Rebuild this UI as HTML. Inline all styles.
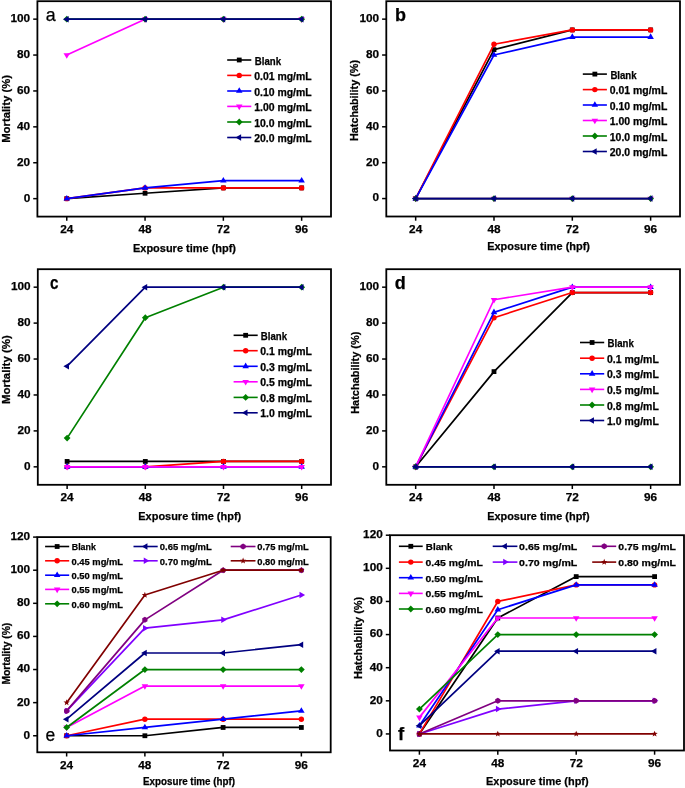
<!DOCTYPE html>
<html><head><meta charset="utf-8"><style>
html,body{margin:0;padding:0;background:#fff;}
svg{display:block;}
text{font-family:"Liberation Sans", sans-serif;fill:#000;stroke:#000;stroke-width:0.25px;}
</style></head><body>
<svg width="685" height="788" viewBox="0 0 685 788">
<rect width="685" height="788" fill="#fff"/>
<polyline points="66.76,198.65 145.05,193.26 223.35,187.88 301.64,187.88" fill="none" stroke="#000000" stroke-width="1.7" stroke-linejoin="round"/>
<rect x="64.36" y="196.25" width="4.80" height="4.80" fill="#000000"/>
<rect x="142.65" y="190.86" width="4.80" height="4.80" fill="#000000"/>
<rect x="220.95" y="185.48" width="4.80" height="4.80" fill="#000000"/>
<rect x="299.24" y="185.48" width="4.80" height="4.80" fill="#000000"/>
<polyline points="66.76,198.65 145.05,187.88 223.35,187.88 301.64,187.88" fill="none" stroke="#FF0000" stroke-width="1.7" stroke-linejoin="round"/>
<circle cx="66.76" cy="198.65" r="2.70" fill="#FF0000"/>
<circle cx="145.05" cy="187.88" r="2.70" fill="#FF0000"/>
<circle cx="223.35" cy="187.88" r="2.70" fill="#FF0000"/>
<circle cx="301.64" cy="187.88" r="2.70" fill="#FF0000"/>
<polyline points="66.76,198.65 145.05,187.88 223.35,180.70 301.64,180.70" fill="none" stroke="#0000FF" stroke-width="1.7" stroke-linejoin="round"/>
<polygon points="66.76,194.90 70.01,200.50 63.51,200.50" fill="#0000FF"/>
<polygon points="145.05,184.13 148.30,189.73 141.80,189.73" fill="#0000FF"/>
<polygon points="223.35,176.95 226.60,182.55 220.10,182.55" fill="#0000FF"/>
<polygon points="301.64,176.95 304.89,182.55 298.39,182.55" fill="#0000FF"/>
<polyline points="66.76,55.05 145.05,19.15 223.35,19.15 301.64,19.15" fill="none" stroke="#FF00FF" stroke-width="1.7" stroke-linejoin="round"/>
<polygon points="66.76,58.80 70.01,53.20 63.51,53.20" fill="#FF00FF"/>
<polygon points="145.05,22.90 148.30,17.30 141.80,17.30" fill="#FF00FF"/>
<polygon points="223.35,22.90 226.60,17.30 220.10,17.30" fill="#FF00FF"/>
<polygon points="301.64,22.90 304.89,17.30 298.39,17.30" fill="#FF00FF"/>
<polyline points="66.76,19.15 145.05,19.15 223.35,19.15 301.64,19.15" fill="none" stroke="#008000" stroke-width="1.7" stroke-linejoin="round"/>
<polygon points="66.76,15.75 70.16,19.15 66.76,22.55 63.36,19.15" fill="#008000"/>
<polygon points="145.05,15.75 148.45,19.15 145.05,22.55 141.65,19.15" fill="#008000"/>
<polygon points="223.35,15.75 226.75,19.15 223.35,22.55 219.95,19.15" fill="#008000"/>
<polygon points="301.64,15.75 305.04,19.15 301.64,22.55 298.24,19.15" fill="#008000"/>
<polyline points="66.76,19.15 145.05,19.15 223.35,19.15 301.64,19.15" fill="none" stroke="#000080" stroke-width="1.7" stroke-linejoin="round"/>
<polygon points="63.01,19.15 68.61,15.90 68.61,22.40" fill="#000080"/>
<polygon points="141.30,19.15 146.90,15.90 146.90,22.40" fill="#000080"/>
<polygon points="219.60,19.15 225.20,15.90 225.20,22.40" fill="#000080"/>
<polygon points="297.89,19.15 303.49,15.90 303.49,22.40" fill="#000080"/>
<rect x="37.40" y="1.20" width="293.60" height="215.40" fill="none" stroke="#000" stroke-width="1.8"/>
<line x1="66.76" y1="216.60" x2="66.76" y2="220.80" stroke="#000" stroke-width="1.5"/>

<line x1="145.05" y1="216.60" x2="145.05" y2="220.80" stroke="#000" stroke-width="1.5"/>

<line x1="223.35" y1="216.60" x2="223.35" y2="220.80" stroke="#000" stroke-width="1.5"/>

<line x1="301.64" y1="216.60" x2="301.64" y2="220.80" stroke="#000" stroke-width="1.5"/>

<line x1="33.20" y1="198.65" x2="37.40" y2="198.65" stroke="#000" stroke-width="1.5"/>

<line x1="33.20" y1="162.75" x2="37.40" y2="162.75" stroke="#000" stroke-width="1.5"/>

<line x1="33.20" y1="126.85" x2="37.40" y2="126.85" stroke="#000" stroke-width="1.5"/>

<line x1="33.20" y1="90.95" x2="37.40" y2="90.95" stroke="#000" stroke-width="1.5"/>

<line x1="33.20" y1="55.05" x2="37.40" y2="55.05" stroke="#000" stroke-width="1.5"/>

<line x1="33.20" y1="19.15" x2="37.40" y2="19.15" stroke="#000" stroke-width="1.5"/>


<line x1="227.20" y1="60.00" x2="251.30" y2="60.00" stroke="#000000" stroke-width="1.6"/>
<rect x="236.85" y="57.60" width="4.80" height="4.80" fill="#000000"/>

<line x1="227.20" y1="75.40" x2="251.30" y2="75.40" stroke="#FF0000" stroke-width="1.6"/>
<circle cx="239.25" cy="75.40" r="2.70" fill="#FF0000"/>

<line x1="227.20" y1="91.00" x2="251.30" y2="91.00" stroke="#0000FF" stroke-width="1.6"/>
<polygon points="239.25,87.25 242.50,92.85 236.00,92.85" fill="#0000FF"/>

<line x1="227.20" y1="106.40" x2="251.30" y2="106.40" stroke="#FF00FF" stroke-width="1.6"/>
<polygon points="239.25,110.15 242.50,104.55 236.00,104.55" fill="#FF00FF"/>

<line x1="227.20" y1="122.00" x2="251.30" y2="122.00" stroke="#008000" stroke-width="1.6"/>
<polygon points="239.25,118.60 242.65,122.00 239.25,125.40 235.85,122.00" fill="#008000"/>

<line x1="227.20" y1="137.50" x2="251.30" y2="137.50" stroke="#000080" stroke-width="1.6"/>
<polygon points="235.50,137.50 241.10,134.25 241.10,140.75" fill="#000080"/>


<polyline points="415.67,198.56 493.99,49.64 572.31,29.91 650.63,29.91" fill="none" stroke="#000000" stroke-width="1.7" stroke-linejoin="round"/>
<rect x="413.27" y="196.16" width="4.80" height="4.80" fill="#000000"/>
<rect x="491.59" y="47.24" width="4.80" height="4.80" fill="#000000"/>
<rect x="569.91" y="27.51" width="4.80" height="4.80" fill="#000000"/>
<rect x="648.23" y="27.51" width="4.80" height="4.80" fill="#000000"/>
<polyline points="415.67,198.56 493.99,44.26 572.31,29.91 650.63,29.91" fill="none" stroke="#FF0000" stroke-width="1.7" stroke-linejoin="round"/>
<circle cx="415.67" cy="198.56" r="2.70" fill="#FF0000"/>
<circle cx="493.99" cy="44.26" r="2.70" fill="#FF0000"/>
<circle cx="572.31" cy="29.91" r="2.70" fill="#FF0000"/>
<circle cx="650.63" cy="29.91" r="2.70" fill="#FF0000"/>
<polyline points="415.67,198.56 493.99,55.02 572.31,37.08 650.63,37.08" fill="none" stroke="#0000FF" stroke-width="1.7" stroke-linejoin="round"/>
<polygon points="415.67,194.81 418.92,200.41 412.42,200.41" fill="#0000FF"/>
<polygon points="493.99,51.27 497.24,56.87 490.74,56.87" fill="#0000FF"/>
<polygon points="572.31,33.33 575.56,38.93 569.06,38.93" fill="#0000FF"/>
<polygon points="650.63,33.33 653.88,38.93 647.38,38.93" fill="#0000FF"/>
<polyline points="415.67,198.56 493.99,198.56 572.31,198.56 650.63,198.56" fill="none" stroke="#FF00FF" stroke-width="1.7" stroke-linejoin="round"/>
<polygon points="415.67,202.31 418.92,196.71 412.42,196.71" fill="#FF00FF"/>
<polygon points="493.99,202.31 497.24,196.71 490.74,196.71" fill="#FF00FF"/>
<polygon points="572.31,202.31 575.56,196.71 569.06,196.71" fill="#FF00FF"/>
<polygon points="650.63,202.31 653.88,196.71 647.38,196.71" fill="#FF00FF"/>
<polyline points="415.67,198.56 493.99,198.56 572.31,198.56 650.63,198.56" fill="none" stroke="#008000" stroke-width="1.7" stroke-linejoin="round"/>
<polygon points="415.67,195.16 419.07,198.56 415.67,201.96 412.27,198.56" fill="#008000"/>
<polygon points="493.99,195.16 497.39,198.56 493.99,201.96 490.59,198.56" fill="#008000"/>
<polygon points="572.31,195.16 575.71,198.56 572.31,201.96 568.91,198.56" fill="#008000"/>
<polygon points="650.63,195.16 654.03,198.56 650.63,201.96 647.23,198.56" fill="#008000"/>
<polyline points="415.67,198.56 493.99,198.56 572.31,198.56 650.63,198.56" fill="none" stroke="#000080" stroke-width="1.7" stroke-linejoin="round"/>
<polygon points="411.92,198.56 417.52,195.31 417.52,201.81" fill="#000080"/>
<polygon points="490.24,198.56 495.84,195.31 495.84,201.81" fill="#000080"/>
<polygon points="568.56,198.56 574.16,195.31 574.16,201.81" fill="#000080"/>
<polygon points="646.88,198.56 652.48,195.31 652.48,201.81" fill="#000080"/>
<rect x="386.30" y="1.20" width="293.70" height="215.30" fill="none" stroke="#000" stroke-width="1.8"/>
<line x1="415.67" y1="216.50" x2="415.67" y2="220.70" stroke="#000" stroke-width="1.5"/>

<line x1="493.99" y1="216.50" x2="493.99" y2="220.70" stroke="#000" stroke-width="1.5"/>

<line x1="572.31" y1="216.50" x2="572.31" y2="220.70" stroke="#000" stroke-width="1.5"/>

<line x1="650.63" y1="216.50" x2="650.63" y2="220.70" stroke="#000" stroke-width="1.5"/>

<line x1="382.10" y1="198.56" x2="386.30" y2="198.56" stroke="#000" stroke-width="1.5"/>

<line x1="382.10" y1="162.68" x2="386.30" y2="162.68" stroke="#000" stroke-width="1.5"/>

<line x1="382.10" y1="126.79" x2="386.30" y2="126.79" stroke="#000" stroke-width="1.5"/>

<line x1="382.10" y1="90.91" x2="386.30" y2="90.91" stroke="#000" stroke-width="1.5"/>

<line x1="382.10" y1="55.02" x2="386.30" y2="55.02" stroke="#000" stroke-width="1.5"/>

<line x1="382.10" y1="19.14" x2="386.30" y2="19.14" stroke="#000" stroke-width="1.5"/>


<line x1="582.80" y1="74.10" x2="606.90" y2="74.10" stroke="#000000" stroke-width="1.6"/>
<rect x="592.45" y="71.70" width="4.80" height="4.80" fill="#000000"/>

<line x1="582.80" y1="89.60" x2="606.90" y2="89.60" stroke="#FF0000" stroke-width="1.6"/>
<circle cx="594.85" cy="89.60" r="2.70" fill="#FF0000"/>

<line x1="582.80" y1="105.00" x2="606.90" y2="105.00" stroke="#0000FF" stroke-width="1.6"/>
<polygon points="594.85,101.25 598.10,106.85 591.60,106.85" fill="#0000FF"/>

<line x1="582.80" y1="120.50" x2="606.90" y2="120.50" stroke="#FF00FF" stroke-width="1.6"/>
<polygon points="594.85,124.25 598.10,118.65 591.60,118.65" fill="#FF00FF"/>

<line x1="582.80" y1="136.00" x2="606.90" y2="136.00" stroke="#008000" stroke-width="1.6"/>
<polygon points="594.85,132.60 598.25,136.00 594.85,139.40 591.45,136.00" fill="#008000"/>

<line x1="582.80" y1="151.50" x2="606.90" y2="151.50" stroke="#000080" stroke-width="1.6"/>
<polygon points="591.10,151.50 596.70,148.25 596.70,154.75" fill="#000080"/>


<polyline points="67.12,461.44 145.31,461.44 223.49,461.44 301.68,461.44" fill="none" stroke="#000000" stroke-width="1.7" stroke-linejoin="round"/>
<rect x="64.72" y="459.04" width="4.80" height="4.80" fill="#000000"/>
<rect x="142.91" y="459.04" width="4.80" height="4.80" fill="#000000"/>
<rect x="221.09" y="459.04" width="4.80" height="4.80" fill="#000000"/>
<rect x="299.28" y="459.04" width="4.80" height="4.80" fill="#000000"/>
<polyline points="67.12,466.83 145.31,466.83 223.49,461.44 301.68,461.44" fill="none" stroke="#FF0000" stroke-width="1.7" stroke-linejoin="round"/>
<circle cx="67.12" cy="466.83" r="2.70" fill="#FF0000"/>
<circle cx="145.31" cy="466.83" r="2.70" fill="#FF0000"/>
<circle cx="223.49" cy="461.44" r="2.70" fill="#FF0000"/>
<circle cx="301.68" cy="461.44" r="2.70" fill="#FF0000"/>
<polyline points="67.12,466.83 145.31,466.83 223.49,466.83 301.68,466.83" fill="none" stroke="#0000FF" stroke-width="1.7" stroke-linejoin="round"/>
<polygon points="67.12,463.08 70.37,468.68 63.87,468.68" fill="#0000FF"/>
<polygon points="145.31,463.08 148.56,468.68 142.06,468.68" fill="#0000FF"/>
<polygon points="223.49,463.08 226.74,468.68 220.24,468.68" fill="#0000FF"/>
<polygon points="301.68,463.08 304.93,468.68 298.43,468.68" fill="#0000FF"/>
<polyline points="67.12,466.83 145.31,466.83 223.49,466.83 301.68,466.83" fill="none" stroke="#FF00FF" stroke-width="1.7" stroke-linejoin="round"/>
<polygon points="67.12,470.58 70.37,464.98 63.87,464.98" fill="#FF00FF"/>
<polygon points="145.31,470.58 148.56,464.98 142.06,464.98" fill="#FF00FF"/>
<polygon points="223.49,470.58 226.74,464.98 220.24,464.98" fill="#FF00FF"/>
<polygon points="301.68,470.58 304.93,464.98 298.43,464.98" fill="#FF00FF"/>
<polyline points="67.12,438.09 145.31,317.71 223.49,287.17 301.68,287.17" fill="none" stroke="#008000" stroke-width="1.7" stroke-linejoin="round"/>
<polygon points="67.12,434.69 70.52,438.09 67.12,441.49 63.72,438.09" fill="#008000"/>
<polygon points="145.31,314.31 148.71,317.71 145.31,321.11 141.91,317.71" fill="#008000"/>
<polygon points="223.49,283.77 226.89,287.17 223.49,290.57 220.09,287.17" fill="#008000"/>
<polygon points="301.68,283.77 305.08,287.17 301.68,290.57 298.28,287.17" fill="#008000"/>
<polyline points="67.12,366.22 145.31,287.17 223.49,287.17 301.68,287.17" fill="none" stroke="#000080" stroke-width="1.7" stroke-linejoin="round"/>
<polygon points="63.37,366.22 68.97,362.97 68.97,369.47" fill="#000080"/>
<polygon points="141.56,287.17 147.16,283.92 147.16,290.42" fill="#000080"/>
<polygon points="219.74,287.17 225.34,283.92 225.34,290.42" fill="#000080"/>
<polygon points="297.93,287.17 303.53,283.92 303.53,290.42" fill="#000080"/>
<rect x="37.80" y="269.20" width="293.20" height="215.60" fill="none" stroke="#000" stroke-width="1.8"/>
<line x1="67.12" y1="484.80" x2="67.12" y2="489.00" stroke="#000" stroke-width="1.5"/>

<line x1="145.31" y1="484.80" x2="145.31" y2="489.00" stroke="#000" stroke-width="1.5"/>

<line x1="223.49" y1="484.80" x2="223.49" y2="489.00" stroke="#000" stroke-width="1.5"/>

<line x1="301.68" y1="484.80" x2="301.68" y2="489.00" stroke="#000" stroke-width="1.5"/>

<line x1="33.60" y1="466.83" x2="37.80" y2="466.83" stroke="#000" stroke-width="1.5"/>

<line x1="33.60" y1="430.90" x2="37.80" y2="430.90" stroke="#000" stroke-width="1.5"/>

<line x1="33.60" y1="394.97" x2="37.80" y2="394.97" stroke="#000" stroke-width="1.5"/>

<line x1="33.60" y1="359.03" x2="37.80" y2="359.03" stroke="#000" stroke-width="1.5"/>

<line x1="33.60" y1="323.10" x2="37.80" y2="323.10" stroke="#000" stroke-width="1.5"/>

<line x1="33.60" y1="287.17" x2="37.80" y2="287.17" stroke="#000" stroke-width="1.5"/>


<line x1="233.60" y1="335.30" x2="257.70" y2="335.30" stroke="#000000" stroke-width="1.6"/>
<rect x="243.25" y="332.90" width="4.80" height="4.80" fill="#000000"/>

<line x1="233.60" y1="350.70" x2="257.70" y2="350.70" stroke="#FF0000" stroke-width="1.6"/>
<circle cx="245.65" cy="350.70" r="2.70" fill="#FF0000"/>

<line x1="233.60" y1="366.30" x2="257.70" y2="366.30" stroke="#0000FF" stroke-width="1.6"/>
<polygon points="245.65,362.55 248.90,368.15 242.40,368.15" fill="#0000FF"/>

<line x1="233.60" y1="381.80" x2="257.70" y2="381.80" stroke="#FF00FF" stroke-width="1.6"/>
<polygon points="245.65,385.55 248.90,379.95 242.40,379.95" fill="#FF00FF"/>

<line x1="233.60" y1="397.40" x2="257.70" y2="397.40" stroke="#008000" stroke-width="1.6"/>
<polygon points="245.65,394.00 249.05,397.40 245.65,400.80 242.25,397.40" fill="#008000"/>

<line x1="233.60" y1="412.80" x2="257.70" y2="412.80" stroke="#000080" stroke-width="1.6"/>
<polygon points="241.90,412.80 247.50,409.55 247.50,416.05" fill="#000080"/>


<polyline points="415.67,466.83 493.99,371.61 572.31,292.56 650.63,292.56" fill="none" stroke="#000000" stroke-width="1.7" stroke-linejoin="round"/>
<rect x="413.27" y="464.43" width="4.80" height="4.80" fill="#000000"/>
<rect x="491.59" y="369.21" width="4.80" height="4.80" fill="#000000"/>
<rect x="569.91" y="290.16" width="4.80" height="4.80" fill="#000000"/>
<rect x="648.23" y="290.16" width="4.80" height="4.80" fill="#000000"/>
<polyline points="415.67,466.83 493.99,317.71 572.31,292.56 650.63,292.56" fill="none" stroke="#FF0000" stroke-width="1.7" stroke-linejoin="round"/>
<circle cx="415.67" cy="466.83" r="2.70" fill="#FF0000"/>
<circle cx="493.99" cy="317.71" r="2.70" fill="#FF0000"/>
<circle cx="572.31" cy="292.56" r="2.70" fill="#FF0000"/>
<circle cx="650.63" cy="292.56" r="2.70" fill="#FF0000"/>
<polyline points="415.67,466.83 493.99,312.32 572.31,287.17 650.63,287.17" fill="none" stroke="#0000FF" stroke-width="1.7" stroke-linejoin="round"/>
<polygon points="415.67,463.08 418.92,468.68 412.42,468.68" fill="#0000FF"/>
<polygon points="493.99,308.57 497.24,314.17 490.74,314.17" fill="#0000FF"/>
<polygon points="572.31,283.42 575.56,289.02 569.06,289.02" fill="#0000FF"/>
<polygon points="650.63,283.42 653.88,289.02 647.38,289.02" fill="#0000FF"/>
<polyline points="415.67,466.83 493.99,299.74 572.31,287.17 650.63,287.17" fill="none" stroke="#FF00FF" stroke-width="1.7" stroke-linejoin="round"/>
<polygon points="415.67,470.58 418.92,464.98 412.42,464.98" fill="#FF00FF"/>
<polygon points="493.99,303.49 497.24,297.89 490.74,297.89" fill="#FF00FF"/>
<polygon points="572.31,290.92 575.56,285.32 569.06,285.32" fill="#FF00FF"/>
<polygon points="650.63,290.92 653.88,285.32 647.38,285.32" fill="#FF00FF"/>
<polyline points="415.67,466.83 493.99,466.83 572.31,466.83 650.63,466.83" fill="none" stroke="#008000" stroke-width="1.7" stroke-linejoin="round"/>
<polygon points="415.67,463.43 419.07,466.83 415.67,470.23 412.27,466.83" fill="#008000"/>
<polygon points="493.99,463.43 497.39,466.83 493.99,470.23 490.59,466.83" fill="#008000"/>
<polygon points="572.31,463.43 575.71,466.83 572.31,470.23 568.91,466.83" fill="#008000"/>
<polygon points="650.63,463.43 654.03,466.83 650.63,470.23 647.23,466.83" fill="#008000"/>
<polyline points="415.67,466.83 493.99,466.83 572.31,466.83 650.63,466.83" fill="none" stroke="#000080" stroke-width="1.7" stroke-linejoin="round"/>
<polygon points="411.92,466.83 417.52,463.58 417.52,470.08" fill="#000080"/>
<polygon points="490.24,466.83 495.84,463.58 495.84,470.08" fill="#000080"/>
<polygon points="568.56,466.83 574.16,463.58 574.16,470.08" fill="#000080"/>
<polygon points="646.88,466.83 652.48,463.58 652.48,470.08" fill="#000080"/>
<rect x="386.30" y="269.20" width="293.70" height="215.60" fill="none" stroke="#000" stroke-width="1.8"/>
<line x1="415.67" y1="484.80" x2="415.67" y2="489.00" stroke="#000" stroke-width="1.5"/>

<line x1="493.99" y1="484.80" x2="493.99" y2="489.00" stroke="#000" stroke-width="1.5"/>

<line x1="572.31" y1="484.80" x2="572.31" y2="489.00" stroke="#000" stroke-width="1.5"/>

<line x1="650.63" y1="484.80" x2="650.63" y2="489.00" stroke="#000" stroke-width="1.5"/>

<line x1="382.10" y1="466.83" x2="386.30" y2="466.83" stroke="#000" stroke-width="1.5"/>

<line x1="382.10" y1="430.90" x2="386.30" y2="430.90" stroke="#000" stroke-width="1.5"/>

<line x1="382.10" y1="394.97" x2="386.30" y2="394.97" stroke="#000" stroke-width="1.5"/>

<line x1="382.10" y1="359.03" x2="386.30" y2="359.03" stroke="#000" stroke-width="1.5"/>

<line x1="382.10" y1="323.10" x2="386.30" y2="323.10" stroke="#000" stroke-width="1.5"/>

<line x1="382.10" y1="287.17" x2="386.30" y2="287.17" stroke="#000" stroke-width="1.5"/>


<line x1="580.00" y1="342.50" x2="604.20" y2="342.50" stroke="#000000" stroke-width="1.6"/>
<rect x="589.70" y="340.10" width="4.80" height="4.80" fill="#000000"/>

<line x1="580.00" y1="358.20" x2="604.20" y2="358.20" stroke="#FF0000" stroke-width="1.6"/>
<circle cx="592.10" cy="358.20" r="2.70" fill="#FF0000"/>

<line x1="580.00" y1="373.80" x2="604.20" y2="373.80" stroke="#0000FF" stroke-width="1.6"/>
<polygon points="592.10,370.05 595.35,375.65 588.85,375.65" fill="#0000FF"/>

<line x1="580.00" y1="389.40" x2="604.20" y2="389.40" stroke="#FF00FF" stroke-width="1.6"/>
<polygon points="592.10,393.15 595.35,387.55 588.85,387.55" fill="#FF00FF"/>

<line x1="580.00" y1="405.00" x2="604.20" y2="405.00" stroke="#008000" stroke-width="1.6"/>
<polygon points="592.10,401.60 595.50,405.00 592.10,408.40 588.70,405.00" fill="#008000"/>

<line x1="580.00" y1="420.50" x2="604.20" y2="420.50" stroke="#000080" stroke-width="1.6"/>
<polygon points="588.35,420.50 593.95,417.25 593.95,423.75" fill="#000080"/>


<polyline points="66.64,735.75 144.88,735.75 223.12,727.47 301.36,727.47" fill="none" stroke="#000000" stroke-width="1.7" stroke-linejoin="round"/>
<rect x="64.24" y="733.35" width="4.80" height="4.80" fill="#000000"/>
<rect x="142.48" y="733.35" width="4.80" height="4.80" fill="#000000"/>
<rect x="220.72" y="725.07" width="4.80" height="4.80" fill="#000000"/>
<rect x="298.96" y="725.07" width="4.80" height="4.80" fill="#000000"/>
<polyline points="66.64,735.75 144.88,719.19 223.12,719.19 301.36,719.19" fill="none" stroke="#FF0000" stroke-width="1.7" stroke-linejoin="round"/>
<circle cx="66.64" cy="735.75" r="2.70" fill="#FF0000"/>
<circle cx="144.88" cy="719.19" r="2.70" fill="#FF0000"/>
<circle cx="223.12" cy="719.19" r="2.70" fill="#FF0000"/>
<circle cx="301.36" cy="719.19" r="2.70" fill="#FF0000"/>
<polyline points="66.64,735.75 144.88,727.47 223.12,719.19 301.36,710.92" fill="none" stroke="#0000FF" stroke-width="1.7" stroke-linejoin="round"/>
<polygon points="66.64,732.00 69.89,737.60 63.39,737.60" fill="#0000FF"/>
<polygon points="144.88,723.72 148.13,729.32 141.63,729.32" fill="#0000FF"/>
<polygon points="223.12,715.44 226.37,721.04 219.87,721.04" fill="#0000FF"/>
<polygon points="301.36,707.17 304.61,712.77 298.11,712.77" fill="#0000FF"/>
<polyline points="66.64,727.47 144.88,686.08 223.12,686.08 301.36,686.08" fill="none" stroke="#FF00FF" stroke-width="1.7" stroke-linejoin="round"/>
<polygon points="66.64,731.22 69.89,725.62 63.39,725.62" fill="#FF00FF"/>
<polygon points="144.88,689.83 148.13,684.23 141.63,684.23" fill="#FF00FF"/>
<polygon points="223.12,689.83 226.37,684.23 219.87,684.23" fill="#FF00FF"/>
<polygon points="301.36,689.83 304.61,684.23 298.11,684.23" fill="#FF00FF"/>
<polyline points="66.64,727.47 144.88,669.53 223.12,669.53 301.36,669.53" fill="none" stroke="#008000" stroke-width="1.7" stroke-linejoin="round"/>
<polygon points="66.64,724.07 70.04,727.47 66.64,730.87 63.24,727.47" fill="#008000"/>
<polygon points="144.88,666.13 148.28,669.53 144.88,672.93 141.48,669.53" fill="#008000"/>
<polygon points="223.12,666.13 226.52,669.53 223.12,672.93 219.72,669.53" fill="#008000"/>
<polygon points="301.36,666.13 304.76,669.53 301.36,672.93 297.96,669.53" fill="#008000"/>
<polyline points="66.64,719.19 144.88,652.98 223.12,652.98 301.36,644.70" fill="none" stroke="#000080" stroke-width="1.7" stroke-linejoin="round"/>
<polygon points="62.89,719.19 68.49,715.94 68.49,722.44" fill="#000080"/>
<polygon points="141.13,652.98 146.73,649.73 146.73,656.23" fill="#000080"/>
<polygon points="219.37,652.98 224.97,649.73 224.97,656.23" fill="#000080"/>
<polygon points="297.61,644.70 303.21,641.45 303.21,647.95" fill="#000080"/>
<polyline points="66.64,710.92 144.88,628.15 223.12,619.87 301.36,595.04" fill="none" stroke="#8000FF" stroke-width="1.7" stroke-linejoin="round"/>
<polygon points="70.39,710.92 64.79,707.67 64.79,714.17" fill="#8000FF"/>
<polygon points="148.63,628.15 143.03,624.90 143.03,631.40" fill="#8000FF"/>
<polygon points="226.87,619.87 221.27,616.62 221.27,623.12" fill="#8000FF"/>
<polygon points="305.11,595.04 299.51,591.79 299.51,598.29" fill="#8000FF"/>
<polyline points="66.64,710.92 144.88,619.87 223.12,570.21 301.36,570.21" fill="none" stroke="#800080" stroke-width="1.7" stroke-linejoin="round"/>
<polygon points="66.64,707.92 69.24,709.42 69.24,712.42 66.64,713.92 64.04,712.42 64.04,709.42" fill="#800080"/>
<polygon points="144.88,616.87 147.48,618.37 147.48,621.37 144.88,622.87 142.28,621.37 142.28,618.37" fill="#800080"/>
<polygon points="223.12,567.21 225.72,568.71 225.72,571.71 223.12,573.21 220.52,571.71 220.52,568.71" fill="#800080"/>
<polygon points="301.36,567.21 303.96,568.71 303.96,571.71 301.36,573.21 298.76,571.71 298.76,568.71" fill="#800080"/>
<polyline points="66.64,702.64 144.88,595.04 223.12,570.21 301.36,570.21" fill="none" stroke="#800000" stroke-width="1.7" stroke-linejoin="round"/>
<polygon points="66.64,699.34 67.46,701.51 69.78,701.62 67.97,703.07 68.58,705.31 66.64,704.04 64.70,705.31 65.31,703.07 63.50,701.62 65.82,701.51" fill="#800000"/>
<polygon points="144.88,591.74 145.70,593.91 148.02,594.02 146.21,595.47 146.82,597.71 144.88,596.44 142.94,597.71 143.55,595.47 141.74,594.02 144.06,593.91" fill="#800000"/>
<polygon points="223.12,566.91 223.94,569.08 226.26,569.19 224.45,570.64 225.06,572.88 223.12,571.61 221.18,572.88 221.79,570.64 219.98,569.19 222.30,569.08" fill="#800000"/>
<polygon points="301.36,566.91 302.18,569.08 304.50,569.19 302.69,570.64 303.30,572.88 301.36,571.61 299.42,572.88 300.03,570.64 298.22,569.19 300.54,569.08" fill="#800000"/>
<rect x="37.30" y="537.10" width="293.40" height="215.20" fill="none" stroke="#000" stroke-width="1.8"/>
<line x1="66.64" y1="752.30" x2="66.64" y2="756.50" stroke="#000" stroke-width="1.5"/>

<line x1="144.88" y1="752.30" x2="144.88" y2="756.50" stroke="#000" stroke-width="1.5"/>

<line x1="223.12" y1="752.30" x2="223.12" y2="756.50" stroke="#000" stroke-width="1.5"/>

<line x1="301.36" y1="752.30" x2="301.36" y2="756.50" stroke="#000" stroke-width="1.5"/>

<line x1="33.10" y1="735.75" x2="37.30" y2="735.75" stroke="#000" stroke-width="1.5"/>

<line x1="33.10" y1="702.64" x2="37.30" y2="702.64" stroke="#000" stroke-width="1.5"/>

<line x1="33.10" y1="669.53" x2="37.30" y2="669.53" stroke="#000" stroke-width="1.5"/>

<line x1="33.10" y1="636.42" x2="37.30" y2="636.42" stroke="#000" stroke-width="1.5"/>

<line x1="33.10" y1="603.32" x2="37.30" y2="603.32" stroke="#000" stroke-width="1.5"/>

<line x1="33.10" y1="570.21" x2="37.30" y2="570.21" stroke="#000" stroke-width="1.5"/>

<line x1="33.10" y1="537.10" x2="37.30" y2="537.10" stroke="#000" stroke-width="1.5"/>


<line x1="45.10" y1="546.50" x2="69.20" y2="546.50" stroke="#000000" stroke-width="1.6"/>
<rect x="54.75" y="544.10" width="4.80" height="4.80" fill="#000000"/>

<line x1="45.10" y1="560.80" x2="69.20" y2="560.80" stroke="#FF0000" stroke-width="1.6"/>
<circle cx="57.15" cy="560.80" r="2.70" fill="#FF0000"/>

<line x1="45.10" y1="575.20" x2="69.20" y2="575.20" stroke="#0000FF" stroke-width="1.6"/>
<polygon points="57.15,571.45 60.40,577.05 53.90,577.05" fill="#0000FF"/>

<line x1="45.10" y1="589.40" x2="69.20" y2="589.40" stroke="#FF00FF" stroke-width="1.6"/>
<polygon points="57.15,593.15 60.40,587.55 53.90,587.55" fill="#FF00FF"/>

<line x1="45.10" y1="603.80" x2="69.20" y2="603.80" stroke="#008000" stroke-width="1.6"/>
<polygon points="57.15,600.40 60.55,603.80 57.15,607.20 53.75,603.80" fill="#008000"/>

<line x1="133.50" y1="546.50" x2="157.70" y2="546.50" stroke="#000080" stroke-width="1.6"/>
<polygon points="141.85,546.50 147.45,543.25 147.45,549.75" fill="#000080"/>

<line x1="133.50" y1="560.80" x2="157.70" y2="560.80" stroke="#8000FF" stroke-width="1.6"/>
<polygon points="149.35,560.80 143.75,557.55 143.75,564.05" fill="#8000FF"/>

<line x1="230.70" y1="546.50" x2="255.50" y2="546.50" stroke="#800080" stroke-width="1.6"/>
<polygon points="243.10,543.50 245.70,545.00 245.70,548.00 243.10,549.50 240.50,548.00 240.50,545.00" fill="#800080"/>

<line x1="230.70" y1="560.80" x2="255.50" y2="560.80" stroke="#800000" stroke-width="1.6"/>
<polygon points="243.10,557.50 243.92,559.67 246.24,559.78 244.43,561.23 245.04,563.47 243.10,562.20 241.16,563.47 241.77,561.23 239.96,559.78 242.28,559.67" fill="#800000"/>


<polyline points="419.40,733.94 497.80,618.01 576.20,576.60 654.60,576.60" fill="none" stroke="#000000" stroke-width="1.7" stroke-linejoin="round"/>
<rect x="417.00" y="731.54" width="4.80" height="4.80" fill="#000000"/>
<rect x="495.40" y="615.61" width="4.80" height="4.80" fill="#000000"/>
<rect x="573.80" y="574.20" width="4.80" height="4.80" fill="#000000"/>
<rect x="652.20" y="574.20" width="4.80" height="4.80" fill="#000000"/>
<polyline points="419.40,733.94 497.80,601.45 576.20,584.88 654.60,584.88" fill="none" stroke="#FF0000" stroke-width="1.7" stroke-linejoin="round"/>
<circle cx="419.40" cy="733.94" r="2.70" fill="#FF0000"/>
<circle cx="497.80" cy="601.45" r="2.70" fill="#FF0000"/>
<circle cx="576.20" cy="584.88" r="2.70" fill="#FF0000"/>
<circle cx="654.60" cy="584.88" r="2.70" fill="#FF0000"/>
<polyline points="419.40,725.66 497.80,609.73 576.20,584.88 654.60,584.88" fill="none" stroke="#0000FF" stroke-width="1.7" stroke-linejoin="round"/>
<polygon points="419.40,721.91 422.65,727.51 416.15,727.51" fill="#0000FF"/>
<polygon points="497.80,605.98 501.05,611.58 494.55,611.58" fill="#0000FF"/>
<polygon points="576.20,581.13 579.45,586.73 572.95,586.73" fill="#0000FF"/>
<polygon points="654.60,581.13 657.85,586.73 651.35,586.73" fill="#0000FF"/>
<polyline points="419.40,717.38 497.80,618.01 576.20,618.01 654.60,618.01" fill="none" stroke="#FF00FF" stroke-width="1.7" stroke-linejoin="round"/>
<polygon points="419.40,721.13 422.65,715.53 416.15,715.53" fill="#FF00FF"/>
<polygon points="497.80,621.76 501.05,616.16 494.55,616.16" fill="#FF00FF"/>
<polygon points="576.20,621.76 579.45,616.16 572.95,616.16" fill="#FF00FF"/>
<polygon points="654.60,621.76 657.85,616.16 651.35,616.16" fill="#FF00FF"/>
<polyline points="419.40,709.10 497.80,634.57 576.20,634.57 654.60,634.57" fill="none" stroke="#008000" stroke-width="1.7" stroke-linejoin="round"/>
<polygon points="419.40,705.70 422.80,709.10 419.40,712.50 416.00,709.10" fill="#008000"/>
<polygon points="497.80,631.17 501.20,634.57 497.80,637.97 494.40,634.57" fill="#008000"/>
<polygon points="576.20,631.17 579.60,634.57 576.20,637.97 572.80,634.57" fill="#008000"/>
<polygon points="654.60,631.17 658.00,634.57 654.60,637.97 651.20,634.57" fill="#008000"/>
<polyline points="419.40,725.66 497.80,651.13 576.20,651.13 654.60,651.13" fill="none" stroke="#000080" stroke-width="1.7" stroke-linejoin="round"/>
<polygon points="415.65,725.66 421.25,722.41 421.25,728.91" fill="#000080"/>
<polygon points="494.05,651.13 499.65,647.88 499.65,654.38" fill="#000080"/>
<polygon points="572.45,651.13 578.05,647.88 578.05,654.38" fill="#000080"/>
<polygon points="650.85,651.13 656.45,647.88 656.45,654.38" fill="#000080"/>
<polyline points="419.40,733.94 497.80,709.10 576.20,700.82 654.60,700.82" fill="none" stroke="#8000FF" stroke-width="1.7" stroke-linejoin="round"/>
<polygon points="423.15,733.94 417.55,730.69 417.55,737.19" fill="#8000FF"/>
<polygon points="501.55,709.10 495.95,705.85 495.95,712.35" fill="#8000FF"/>
<polygon points="579.95,700.82 574.35,697.57 574.35,704.07" fill="#8000FF"/>
<polygon points="658.35,700.82 652.75,697.57 652.75,704.07" fill="#8000FF"/>
<polyline points="419.40,733.94 497.80,700.82 576.20,700.82 654.60,700.82" fill="none" stroke="#800080" stroke-width="1.7" stroke-linejoin="round"/>
<polygon points="419.40,730.94 422.00,732.44 422.00,735.44 419.40,736.94 416.80,735.44 416.80,732.44" fill="#800080"/>
<polygon points="497.80,697.82 500.40,699.32 500.40,702.32 497.80,703.82 495.20,702.32 495.20,699.32" fill="#800080"/>
<polygon points="576.20,697.82 578.80,699.32 578.80,702.32 576.20,703.82 573.60,702.32 573.60,699.32" fill="#800080"/>
<polygon points="654.60,697.82 657.20,699.32 657.20,702.32 654.60,703.82 652.00,702.32 652.00,699.32" fill="#800080"/>
<polyline points="419.40,733.94 497.80,733.94 576.20,733.94 654.60,733.94" fill="none" stroke="#800000" stroke-width="1.7" stroke-linejoin="round"/>
<polygon points="419.40,730.64 420.22,732.81 422.54,732.92 420.73,734.37 421.34,736.61 419.40,735.34 417.46,736.61 418.07,734.37 416.26,732.92 418.58,732.81" fill="#800000"/>
<polygon points="497.80,730.64 498.62,732.81 500.94,732.92 499.13,734.37 499.74,736.61 497.80,735.34 495.86,736.61 496.47,734.37 494.66,732.92 496.98,732.81" fill="#800000"/>
<polygon points="576.20,730.64 577.02,732.81 579.34,732.92 577.53,734.37 578.14,736.61 576.20,735.34 574.26,736.61 574.87,734.37 573.06,732.92 575.38,732.81" fill="#800000"/>
<polygon points="654.60,730.64 655.42,732.81 657.74,732.92 655.93,734.37 656.54,736.61 654.60,735.34 652.66,736.61 653.27,734.37 651.46,732.92 653.78,732.81" fill="#800000"/>
<rect x="390.00" y="535.20" width="294.00" height="215.30" fill="none" stroke="#000" stroke-width="1.8"/>
<line x1="419.40" y1="750.50" x2="419.40" y2="754.70" stroke="#000" stroke-width="1.5"/>

<line x1="497.80" y1="750.50" x2="497.80" y2="754.70" stroke="#000" stroke-width="1.5"/>

<line x1="576.20" y1="750.50" x2="576.20" y2="754.70" stroke="#000" stroke-width="1.5"/>

<line x1="654.60" y1="750.50" x2="654.60" y2="754.70" stroke="#000" stroke-width="1.5"/>

<line x1="385.80" y1="733.94" x2="390.00" y2="733.94" stroke="#000" stroke-width="1.5"/>

<line x1="385.80" y1="700.82" x2="390.00" y2="700.82" stroke="#000" stroke-width="1.5"/>

<line x1="385.80" y1="667.69" x2="390.00" y2="667.69" stroke="#000" stroke-width="1.5"/>

<line x1="385.80" y1="634.57" x2="390.00" y2="634.57" stroke="#000" stroke-width="1.5"/>

<line x1="385.80" y1="601.45" x2="390.00" y2="601.45" stroke="#000" stroke-width="1.5"/>

<line x1="385.80" y1="568.32" x2="390.00" y2="568.32" stroke="#000" stroke-width="1.5"/>

<line x1="385.80" y1="535.20" x2="390.00" y2="535.20" stroke="#000" stroke-width="1.5"/>


<line x1="398.90" y1="546.30" x2="422.70" y2="546.30" stroke="#000000" stroke-width="1.6"/>
<rect x="408.40" y="543.90" width="4.80" height="4.80" fill="#000000"/>

<line x1="398.90" y1="562.10" x2="422.70" y2="562.10" stroke="#FF0000" stroke-width="1.6"/>
<circle cx="410.80" cy="562.10" r="2.70" fill="#FF0000"/>

<line x1="398.90" y1="577.70" x2="422.70" y2="577.70" stroke="#0000FF" stroke-width="1.6"/>
<polygon points="410.80,573.95 414.05,579.55 407.55,579.55" fill="#0000FF"/>

<line x1="398.90" y1="593.40" x2="422.70" y2="593.40" stroke="#FF00FF" stroke-width="1.6"/>
<polygon points="410.80,597.15 414.05,591.55 407.55,591.55" fill="#FF00FF"/>

<line x1="398.90" y1="609.00" x2="422.70" y2="609.00" stroke="#008000" stroke-width="1.6"/>
<polygon points="410.80,605.60 414.20,609.00 410.80,612.40 407.40,609.00" fill="#008000"/>

<line x1="492.70" y1="546.30" x2="517.40" y2="546.30" stroke="#000080" stroke-width="1.6"/>
<polygon points="501.30,546.30 506.90,543.05 506.90,549.55" fill="#000080"/>

<line x1="492.70" y1="562.10" x2="517.40" y2="562.10" stroke="#8000FF" stroke-width="1.6"/>
<polygon points="508.80,562.10 503.20,558.85 503.20,565.35" fill="#8000FF"/>

<line x1="592.20" y1="546.30" x2="616.20" y2="546.30" stroke="#800080" stroke-width="1.6"/>
<polygon points="604.20,543.30 606.80,544.80 606.80,547.80 604.20,549.30 601.60,547.80 601.60,544.80" fill="#800080"/>

<line x1="592.20" y1="562.10" x2="616.20" y2="562.10" stroke="#800000" stroke-width="1.6"/>
<polygon points="604.20,558.80 605.02,560.97 607.34,561.08 605.53,562.53 606.14,564.77 604.20,563.50 602.26,564.77 602.87,562.53 601.06,561.08 603.38,560.97" fill="#800000"/>


<defs><filter id="gs" filterUnits="userSpaceOnUse" x="0" y="0" width="685" height="788"><feOffset dx="0" dy="0"/></filter></defs>
<g filter="url(#gs)">
<text x="66.76" y="233.00" font-size="11.8" font-weight="bold" text-anchor="middle">24</text>
<text x="145.05" y="233.00" font-size="11.8" font-weight="bold" text-anchor="middle">48</text>
<text x="223.35" y="233.00" font-size="11.8" font-weight="bold" text-anchor="middle">72</text>
<text x="301.64" y="233.00" font-size="11.8" font-weight="bold" text-anchor="middle">96</text>
<text x="30.20" y="201.55" font-size="11.8" font-weight="bold" text-anchor="end">0</text>
<text x="30.20" y="165.65" font-size="11.8" font-weight="bold" text-anchor="end">20</text>
<text x="30.20" y="129.75" font-size="11.8" font-weight="bold" text-anchor="end">40</text>
<text x="30.20" y="93.85" font-size="11.8" font-weight="bold" text-anchor="end">60</text>
<text x="30.20" y="57.95" font-size="11.8" font-weight="bold" text-anchor="end">80</text>
<text x="30.20" y="22.05" font-size="11.8" font-weight="bold" text-anchor="end">100</text>
<text x="133.00" y="252.30" font-size="11.6" font-weight="bold" text-anchor="start" textLength="103.00" lengthAdjust="spacingAndGlyphs">Exposure time (hpf)</text>
<text transform="translate(10.30,142.80) rotate(-90)" font-size="11.6" font-weight="bold" textLength="67.80" lengthAdjust="spacingAndGlyphs">Mortality (%)</text>
<text x="254.80" y="64.60" font-size="10.0" font-weight="bold" text-anchor="start" textLength="26.20" lengthAdjust="spacingAndGlyphs">Blank</text>
<text x="254.20" y="80.00" font-size="10.0" font-weight="bold" text-anchor="start" textLength="57.50" lengthAdjust="spacingAndGlyphs">0.01 mg/mL</text>
<text x="254.20" y="95.60" font-size="10.0" font-weight="bold" text-anchor="start" textLength="57.50" lengthAdjust="spacingAndGlyphs">0.10 mg/mL</text>
<text x="254.20" y="111.00" font-size="10.0" font-weight="bold" text-anchor="start" textLength="57.50" lengthAdjust="spacingAndGlyphs">1.00 mg/mL</text>
<text x="254.20" y="126.60" font-size="10.0" font-weight="bold" text-anchor="start" textLength="57.50" lengthAdjust="spacingAndGlyphs">10.0 mg/mL</text>
<text x="254.20" y="142.10" font-size="10.0" font-weight="bold" text-anchor="start" textLength="57.50" lengthAdjust="spacingAndGlyphs">20.0 mg/mL</text>
<text x="45.70" y="21.00" font-size="17.8" font-weight="normal" text-anchor="start">a</text>
<text x="415.67" y="232.90" font-size="11.8" font-weight="bold" text-anchor="middle">24</text>
<text x="493.99" y="232.90" font-size="11.8" font-weight="bold" text-anchor="middle">48</text>
<text x="572.31" y="232.90" font-size="11.8" font-weight="bold" text-anchor="middle">72</text>
<text x="650.63" y="232.90" font-size="11.8" font-weight="bold" text-anchor="middle">96</text>
<text x="379.10" y="201.46" font-size="11.8" font-weight="bold" text-anchor="end">0</text>
<text x="379.10" y="165.58" font-size="11.8" font-weight="bold" text-anchor="end">20</text>
<text x="379.10" y="129.69" font-size="11.8" font-weight="bold" text-anchor="end">40</text>
<text x="379.10" y="93.81" font-size="11.8" font-weight="bold" text-anchor="end">60</text>
<text x="379.10" y="57.92" font-size="11.8" font-weight="bold" text-anchor="end">80</text>
<text x="379.10" y="22.04" font-size="11.8" font-weight="bold" text-anchor="end">100</text>
<text x="487.20" y="250.00" font-size="11.6" font-weight="bold" text-anchor="start" textLength="102.80" lengthAdjust="spacingAndGlyphs">Exposure time (hpf)</text>
<text transform="translate(358.20,141.00) rotate(-90)" font-size="11.6" font-weight="bold" textLength="81.00" lengthAdjust="spacingAndGlyphs">Hatchability (%)</text>
<text x="610.40" y="78.70" font-size="10.0" font-weight="bold" text-anchor="start" textLength="26.20" lengthAdjust="spacingAndGlyphs">Blank</text>
<text x="609.80" y="94.20" font-size="10.0" font-weight="bold" text-anchor="start" textLength="57.50" lengthAdjust="spacingAndGlyphs">0.01 mg/mL</text>
<text x="609.80" y="109.60" font-size="10.0" font-weight="bold" text-anchor="start" textLength="57.50" lengthAdjust="spacingAndGlyphs">0.10 mg/mL</text>
<text x="609.80" y="125.10" font-size="10.0" font-weight="bold" text-anchor="start" textLength="57.50" lengthAdjust="spacingAndGlyphs">1.00 mg/mL</text>
<text x="609.80" y="140.60" font-size="10.0" font-weight="bold" text-anchor="start" textLength="57.50" lengthAdjust="spacingAndGlyphs">10.0 mg/mL</text>
<text x="609.80" y="156.10" font-size="10.0" font-weight="bold" text-anchor="start" textLength="57.50" lengthAdjust="spacingAndGlyphs">20.0 mg/mL</text>
<text x="394.90" y="20.80" font-size="18.0" font-weight="bold" text-anchor="start">b</text>
<text x="67.12" y="501.20" font-size="11.8" font-weight="bold" text-anchor="middle">24</text>
<text x="145.31" y="501.20" font-size="11.8" font-weight="bold" text-anchor="middle">48</text>
<text x="223.49" y="501.20" font-size="11.8" font-weight="bold" text-anchor="middle">72</text>
<text x="301.68" y="501.20" font-size="11.8" font-weight="bold" text-anchor="middle">96</text>
<text x="30.60" y="469.73" font-size="11.8" font-weight="bold" text-anchor="end">0</text>
<text x="30.60" y="433.80" font-size="11.8" font-weight="bold" text-anchor="end">20</text>
<text x="30.60" y="397.87" font-size="11.8" font-weight="bold" text-anchor="end">40</text>
<text x="30.60" y="361.93" font-size="11.8" font-weight="bold" text-anchor="end">60</text>
<text x="30.60" y="326.00" font-size="11.8" font-weight="bold" text-anchor="end">80</text>
<text x="30.60" y="290.07" font-size="11.8" font-weight="bold" text-anchor="end">100</text>
<text x="138.30" y="519.50" font-size="11.6" font-weight="bold" text-anchor="start" textLength="102.90" lengthAdjust="spacingAndGlyphs">Exposure time (hpf)</text>
<text transform="translate(10.30,404.00) rotate(-90)" font-size="11.6" font-weight="bold" textLength="68.80" lengthAdjust="spacingAndGlyphs">Mortality (%)</text>
<text x="260.80" y="339.90" font-size="10.0" font-weight="bold" text-anchor="start" textLength="26.20" lengthAdjust="spacingAndGlyphs">Blank</text>
<text x="260.20" y="355.30" font-size="10.0" font-weight="bold" text-anchor="start" textLength="51.80" lengthAdjust="spacingAndGlyphs">0.1 mg/mL</text>
<text x="260.20" y="370.90" font-size="10.0" font-weight="bold" text-anchor="start" textLength="51.80" lengthAdjust="spacingAndGlyphs">0.3 mg/mL</text>
<text x="260.20" y="386.40" font-size="10.0" font-weight="bold" text-anchor="start" textLength="51.80" lengthAdjust="spacingAndGlyphs">0.5 mg/mL</text>
<text x="260.20" y="402.00" font-size="10.0" font-weight="bold" text-anchor="start" textLength="51.80" lengthAdjust="spacingAndGlyphs">0.8 mg/mL</text>
<text x="260.20" y="417.40" font-size="10.0" font-weight="bold" text-anchor="start" textLength="51.80" lengthAdjust="spacingAndGlyphs">1.0 mg/mL</text>
<text x="50.00" y="288.90" font-size="17.6" font-weight="bold" text-anchor="start" textLength="8.50" lengthAdjust="spacingAndGlyphs">c</text>
<text x="415.67" y="501.20" font-size="11.8" font-weight="bold" text-anchor="middle">24</text>
<text x="493.99" y="501.20" font-size="11.8" font-weight="bold" text-anchor="middle">48</text>
<text x="572.31" y="501.20" font-size="11.8" font-weight="bold" text-anchor="middle">72</text>
<text x="650.63" y="501.20" font-size="11.8" font-weight="bold" text-anchor="middle">96</text>
<text x="379.10" y="469.73" font-size="11.8" font-weight="bold" text-anchor="end">0</text>
<text x="379.10" y="433.80" font-size="11.8" font-weight="bold" text-anchor="end">20</text>
<text x="379.10" y="397.87" font-size="11.8" font-weight="bold" text-anchor="end">40</text>
<text x="379.10" y="361.93" font-size="11.8" font-weight="bold" text-anchor="end">60</text>
<text x="379.10" y="326.00" font-size="11.8" font-weight="bold" text-anchor="end">80</text>
<text x="379.10" y="290.07" font-size="11.8" font-weight="bold" text-anchor="end">100</text>
<text x="487.20" y="519.50" font-size="11.6" font-weight="bold" text-anchor="start" textLength="102.40" lengthAdjust="spacingAndGlyphs">Exposure time (hpf)</text>
<text transform="translate(359.40,413.80) rotate(-90)" font-size="11.6" font-weight="bold" textLength="82.20" lengthAdjust="spacingAndGlyphs">Hatchability (%)</text>
<text x="607.60" y="347.10" font-size="10.0" font-weight="bold" text-anchor="start" textLength="26.20" lengthAdjust="spacingAndGlyphs">Blank</text>
<text x="607.00" y="362.80" font-size="10.0" font-weight="bold" text-anchor="start" textLength="51.80" lengthAdjust="spacingAndGlyphs">0.1 mg/mL</text>
<text x="607.00" y="378.40" font-size="10.0" font-weight="bold" text-anchor="start" textLength="51.80" lengthAdjust="spacingAndGlyphs">0.3 mg/mL</text>
<text x="607.00" y="394.00" font-size="10.0" font-weight="bold" text-anchor="start" textLength="51.80" lengthAdjust="spacingAndGlyphs">0.5 mg/mL</text>
<text x="607.00" y="409.60" font-size="10.0" font-weight="bold" text-anchor="start" textLength="51.80" lengthAdjust="spacingAndGlyphs">0.8 mg/mL</text>
<text x="607.00" y="425.10" font-size="10.0" font-weight="bold" text-anchor="start" textLength="51.80" lengthAdjust="spacingAndGlyphs">1.0 mg/mL</text>
<text x="394.70" y="289.00" font-size="18.0" font-weight="bold" text-anchor="start">d</text>
<text x="66.64" y="768.70" font-size="11.8" font-weight="bold" text-anchor="middle">24</text>
<text x="144.88" y="768.70" font-size="11.8" font-weight="bold" text-anchor="middle">48</text>
<text x="223.12" y="768.70" font-size="11.8" font-weight="bold" text-anchor="middle">72</text>
<text x="301.36" y="768.70" font-size="11.8" font-weight="bold" text-anchor="middle">96</text>
<text x="30.10" y="738.65" font-size="11.8" font-weight="bold" text-anchor="end">0</text>
<text x="30.10" y="705.54" font-size="11.8" font-weight="bold" text-anchor="end">20</text>
<text x="30.10" y="672.43" font-size="11.8" font-weight="bold" text-anchor="end">40</text>
<text x="30.10" y="639.32" font-size="11.8" font-weight="bold" text-anchor="end">60</text>
<text x="30.10" y="606.22" font-size="11.8" font-weight="bold" text-anchor="end">80</text>
<text x="30.10" y="573.11" font-size="11.8" font-weight="bold" text-anchor="end">100</text>
<text x="30.10" y="540.00" font-size="11.8" font-weight="bold" text-anchor="end">120</text>
<text x="143.00" y="784.90" font-size="10.2" font-weight="bold" text-anchor="start" textLength="92.00" lengthAdjust="spacingAndGlyphs">Exposure time (hpf)</text>
<text transform="translate(9.60,684.60) rotate(-90)" font-size="10.2" font-weight="bold" textLength="61.90" lengthAdjust="spacingAndGlyphs">Mortality (%)</text>
<text x="71.80" y="550.20" font-size="9.3" font-weight="bold" text-anchor="start" textLength="24.00" lengthAdjust="spacingAndGlyphs">Blank</text>
<text x="71.50" y="564.50" font-size="9.3" font-weight="bold" text-anchor="start" textLength="51.50" lengthAdjust="spacingAndGlyphs">0.45 mg/mL</text>
<text x="71.50" y="578.90" font-size="9.3" font-weight="bold" text-anchor="start" textLength="51.50" lengthAdjust="spacingAndGlyphs">0.50 mg/mL</text>
<text x="71.50" y="593.10" font-size="9.3" font-weight="bold" text-anchor="start" textLength="51.50" lengthAdjust="spacingAndGlyphs">0.55 mg/mL</text>
<text x="71.50" y="607.50" font-size="9.3" font-weight="bold" text-anchor="start" textLength="51.50" lengthAdjust="spacingAndGlyphs">0.60 mg/mL</text>
<text x="159.80" y="550.20" font-size="9.3" font-weight="bold" text-anchor="start" textLength="52.00" lengthAdjust="spacingAndGlyphs">0.65 mg/mL</text>
<text x="159.80" y="564.50" font-size="9.3" font-weight="bold" text-anchor="start" textLength="52.00" lengthAdjust="spacingAndGlyphs">0.70 mg/mL</text>
<text x="257.20" y="550.20" font-size="9.3" font-weight="bold" text-anchor="start" textLength="51.50" lengthAdjust="spacingAndGlyphs">0.75 mg/mL</text>
<text x="257.20" y="564.50" font-size="9.3" font-weight="bold" text-anchor="start" textLength="51.50" lengthAdjust="spacingAndGlyphs">0.80 mg/mL</text>
<text x="45.40" y="740.60" font-size="17.5" font-weight="normal" text-anchor="start">e</text>
<text x="419.40" y="766.90" font-size="11.8" font-weight="bold" text-anchor="middle">24</text>
<text x="497.80" y="766.90" font-size="11.8" font-weight="bold" text-anchor="middle">48</text>
<text x="576.20" y="766.90" font-size="11.8" font-weight="bold" text-anchor="middle">72</text>
<text x="654.60" y="766.90" font-size="11.8" font-weight="bold" text-anchor="middle">96</text>
<text x="382.80" y="736.84" font-size="11.8" font-weight="bold" text-anchor="end">0</text>
<text x="382.80" y="703.72" font-size="11.8" font-weight="bold" text-anchor="end">20</text>
<text x="382.80" y="670.59" font-size="11.8" font-weight="bold" text-anchor="end">40</text>
<text x="382.80" y="637.47" font-size="11.8" font-weight="bold" text-anchor="end">60</text>
<text x="382.80" y="604.35" font-size="11.8" font-weight="bold" text-anchor="end">80</text>
<text x="382.80" y="571.22" font-size="11.8" font-weight="bold" text-anchor="end">100</text>
<text x="382.80" y="538.10" font-size="11.8" font-weight="bold" text-anchor="end">120</text>
<text x="486.10" y="785.40" font-size="11.6" font-weight="bold" text-anchor="start" textLength="102.50" lengthAdjust="spacingAndGlyphs">Exposure time (hpf)</text>
<text transform="translate(361.60,679.00) rotate(-90)" font-size="11.6" font-weight="bold" textLength="82.20" lengthAdjust="spacingAndGlyphs">Hatchability (%)</text>
<text x="425.80" y="550.10" font-size="9.7" font-weight="bold" text-anchor="start" textLength="26.80" lengthAdjust="spacingAndGlyphs">Blank</text>
<text x="425.50" y="565.90" font-size="9.7" font-weight="bold" text-anchor="start" textLength="57.50" lengthAdjust="spacingAndGlyphs">0.45 mg/mL</text>
<text x="425.50" y="581.50" font-size="9.7" font-weight="bold" text-anchor="start" textLength="57.50" lengthAdjust="spacingAndGlyphs">0.50 mg/mL</text>
<text x="425.50" y="597.20" font-size="9.7" font-weight="bold" text-anchor="start" textLength="57.50" lengthAdjust="spacingAndGlyphs">0.55 mg/mL</text>
<text x="425.50" y="612.80" font-size="9.7" font-weight="bold" text-anchor="start" textLength="57.50" lengthAdjust="spacingAndGlyphs">0.60 mg/mL</text>
<text x="519.10" y="550.10" font-size="9.7" font-weight="bold" text-anchor="start" textLength="58.20" lengthAdjust="spacingAndGlyphs">0.65 mg/mL</text>
<text x="519.10" y="565.90" font-size="9.7" font-weight="bold" text-anchor="start" textLength="58.20" lengthAdjust="spacingAndGlyphs">0.70 mg/mL</text>
<text x="618.30" y="550.10" font-size="9.7" font-weight="bold" text-anchor="start" textLength="57.70" lengthAdjust="spacingAndGlyphs">0.75 mg/mL</text>
<text x="618.30" y="565.90" font-size="9.7" font-weight="bold" text-anchor="start" textLength="57.70" lengthAdjust="spacingAndGlyphs">0.80 mg/mL</text>
<text x="398.00" y="740.00" font-size="18.6" font-weight="bold" text-anchor="start">f</text>
</g>
</svg>
</body></html>
